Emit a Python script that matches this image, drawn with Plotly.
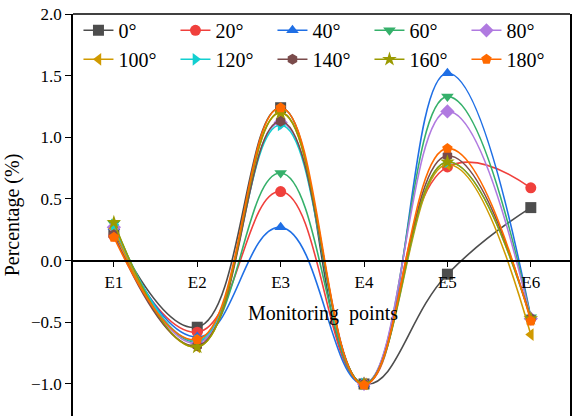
import plotly.graph_objects as go

points = ["E1", "E2", "E3", "E4", "E5", "E6"]
xpos = [1, 2, 3, 4, 5, 6]

angles = ["0°", "20°", "40°", "60°", "80°", "100°", "120°", "140°", "160°", "180°"]
v0 = [0.23, -0.54, 1.24, -1.00, -0.11, 0.43]
v20 = [0.20, -0.58, 0.56, -1.00, 0.76, 0.59]
v40 = [0.27, -0.62, 0.27, -1.00, 1.52, -0.46]
v60 = [0.30, -0.66, 0.71, -1.00, 1.33, -0.46]
v80 = [0.27, -0.67, 1.12, -1.00, 1.21, -0.47]
v100 = [0.26, -0.70, 1.20, -1.00, 0.78, -0.60]
v120 = [0.29, -0.65, 1.10, -1.00, 0.80, -0.47]
v140 = [0.21, -0.69, 1.13, -1.00, 0.85, -0.47]
v160 = [0.31, -0.70, 1.20, -1.00, 0.80, -0.47]
v180 = [0.19, -0.64, 1.24, -1.01, 0.91, -0.49]
series = [v0, v20, v40, v60, v80, v100, v120, v140, v160, v180]

colors = ["#4d4d4d", "#f0403c", "#1f6fe5", "#35b06a", "#b07ae0",
          "#d09a00", "#12cfd0", "#7a4b4b", "#9a9a00", "#ff6a00"]
symbols = ["square", "circle", "triangle-up", "triangle-down", "diamond",
           "triangle-left", "triangle-right", "hexagon", "star", "pentagon"]

FONT = "'Liberation Serif', 'Times New Roman', Times, serif"

fig = go.Figure()
for name, vals, c, s in zip(angles, series, colors, symbols):
    fig.add_trace(go.Scatter(
        x=xpos, y=vals, name=name, mode="lines+markers",
        line=dict(color=c, width=1.6, shape="spline", smoothing=1.3),
        marker=dict(color=c, symbol=s, size=11, line=dict(width=0)),
    ))

ymin, ymax = -1.26, 2.0
fig.update_layout(
    width=576, height=416,
    margin=dict(l=73, r=6, t=14, b=0),
    plot_bgcolor="white", paper_bgcolor="white",
    font=dict(family=FONT, color="black", size=16),
    showlegend=True,
    legend=dict(
        orientation="h", x=0.011, y=1.008, xanchor="left", yanchor="top",
        font=dict(family=FONT, size=20, color="black"),
        entrywidth=52, entrywidthmode="pixels",
        bgcolor="rgba(0,0,0,0)", tracegroupgap=0,
    ),
    xaxis=dict(
        range=[0.51, 6.47], tickvals=xpos, ticktext=points,
        anchor="free", position=(0 - ymin) / (ymax - ymin),
        showline=True, linecolor="black", linewidth=1.5,
        ticks="outside", ticklen=6, tickwidth=1.2, tickcolor="black",
        showgrid=False, zeroline=False,
        tickfont=dict(family=FONT, size=17),
    ),
    yaxis=dict(
        range=[ymin, ymax], tickvals=[-1.0, -0.5, 0.0, 0.5, 1.0, 1.5, 2.0],
        tickformat=".1f",
        showline=True, linecolor="black", linewidth=1.5, mirror=True,
        ticks="outside", ticklen=6, tickwidth=1.2, tickcolor="black",
        showgrid=False, zeroline=False,
        tickfont=dict(family=FONT, size=17),
        title=dict(text="Percentage (%)", font=dict(family=FONT, size=20), standoff=6),
    ),
    shapes=[dict(type="line", xref="paper", yref="paper", x0=0, x1=1, y0=1, y1=1,
                 line=dict(color="black", width=1.5))],
    annotations=[dict(text="Monitoring  points", xref="paper", yref="paper",
                      x=0.503, y=0.256, showarrow=False, xanchor="center", yanchor="middle",
                      font=dict(family=FONT, size=20, color="black"))],
)

fig.write_html("out.html")
